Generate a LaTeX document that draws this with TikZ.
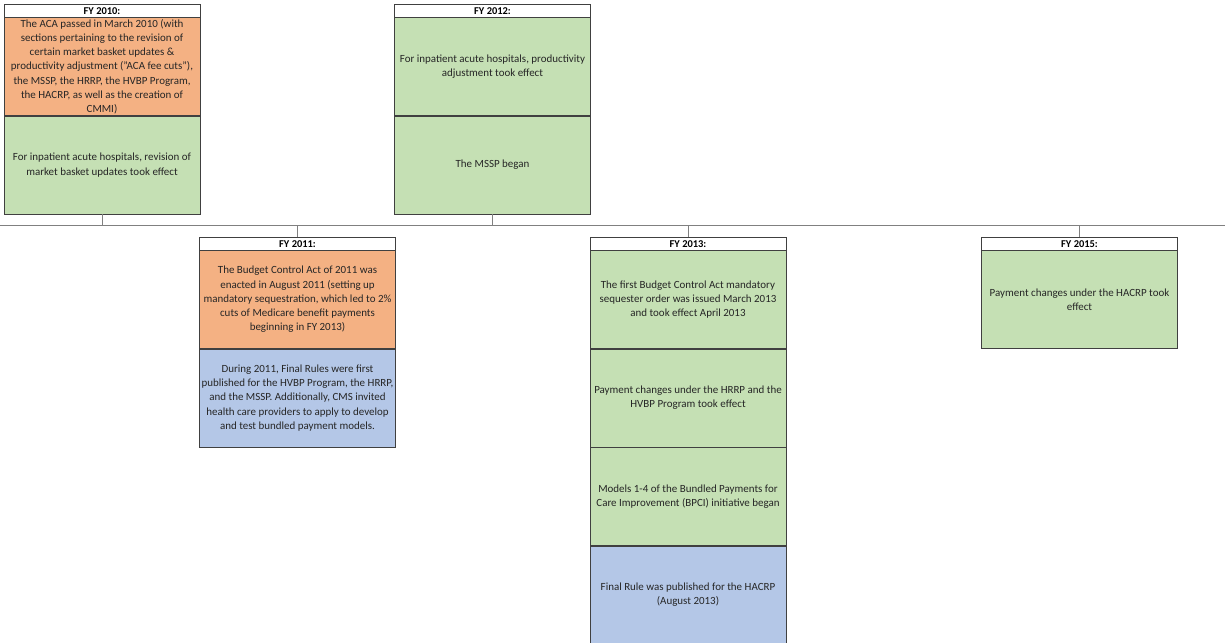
\documentclass[tikz,border=0pt]{standalone}
\usepackage{fontspec}
\setmainfont{Carlito}
\usetikzlibrary{positioning}
\definecolor{boxorange}{RGB}{244,177,131}
\definecolor{boxgreen}{RGB}{197,224,180}
\definecolor{boxblue}{RGB}{180,199,231}
\definecolor{boxline}{RGB}{64,64,64}
\definecolor{axisgray}{RGB}{128,128,128}

\tikzset{
  yearhead/.style={draw=boxline, fill=white, minimum width=196bp, minimum height=13bp,
    inner sep=0pt, anchor=north, font=\fontsize{10.5}{12}\selectfont\bfseries},
  event/.style={draw=boxline, minimum width=196bp, minimum height=98bp, inner sep=0pt,
    align=center, text=black!85, font=\fontsize{11}{14.3}\selectfont},
  ev orange/.style={event, fill=boxorange},
  ev green/.style={event, fill=boxgreen},
  ev blue/.style={event, fill=boxblue},
  stem/.style={draw=axisgray, line width=0.8bp}
}

\begin{document}
\begin{tikzpicture}[x=1bp, y=-1bp]
  \useasboundingbox (0,0) rectangle (1225,643);

  % time axis
  \coordinate (axis w) at (0,225);
  \coordinate (axis e) at (1225,225);
  \draw[stem] (axis w) -- (axis e);

  % FY 2010
  \node[yearhead] (fy10) at (102,4) {FY 2010:};
  \node[ev orange, below=0pt of fy10] (fy10a) {The ACA passed in March 2010 (with\\sections pertaining to the revision of\\certain market basket updates \&\\productivity adjustment ("ACA fee cuts"),\\the MSSP, the HRRP, the HVBP Program,\\the HACRP, as well as the creation of\\CMMI)};
  \node[ev green, below=0pt of fy10a] (fy10b) {For inpatient acute hospitals, revision of\\market basket updates took effect};

  % FY 2011
  \node[yearhead] (fy11) at (297.5,237) {FY 2011:};
  \node[ev orange, below=0pt of fy11] (fy11a) {The Budget Control Act of 2011 was\\enacted in August 2011 (setting up\\mandatory sequestration, which led to 2\%\\cuts of Medicare benefit payments\\beginning in FY 2013)};
  \node[ev blue, below=0pt of fy11a] (fy11b) {During 2011, Final Rules were first\\published for the HVBP Program, the HRRP,\\and the MSSP. Additionally, CMS invited\\health care providers to apply to develop\\and test bundled payment models.};

  % FY 2012
  \node[yearhead] (fy12) at (492.5,4) {FY 2012:};
  \node[ev green, below=0pt of fy12] (fy12a) {For inpatient acute hospitals, productivity\\adjustment took effect};
  \node[ev green, below=0pt of fy12a] (fy12b) {The MSSP began};

  % FY 2013
  \node[yearhead] (fy13) at (688,237) {FY 2013:};
  \node[ev green, below=0pt of fy13] (fy13a) {The first Budget Control Act mandatory\\sequester order was issued March 2013\\and took effect April 2013};
  \node[ev green, below=0pt of fy13a] (fy13b) {Payment changes under the HRRP and the\\HVBP Program took effect};
  \node[ev green, below=0pt of fy13b] (fy13c) {Models 1-4 of the Bundled Payments for\\Care Improvement (BPCI) initiative began};
  \node[ev blue, below=0pt of fy13c] (fy13d) {Final Rule was published for the HACRP\\(August 2013)};

  % FY 2015
  \node[yearhead] (fy15) at (1079.5,237) {FY 2015:};
  \node[ev green, below=0pt of fy15] (fy15a) {Payment changes under the HACRP took\\effect};

  % stems to the axis
  \draw[stem] (fy10b.south) -- (fy10b.south |- axis w);
  \draw[stem] (fy12b.south) -- (fy12b.south |- axis w);
  \draw[stem] (fy11.north) -- (fy11.north |- axis w);
  \draw[stem] (fy13.north) -- (fy13.north |- axis w);
  \draw[stem] (fy15.north) -- (fy15.north |- axis w);
\end{tikzpicture}
\end{document}
